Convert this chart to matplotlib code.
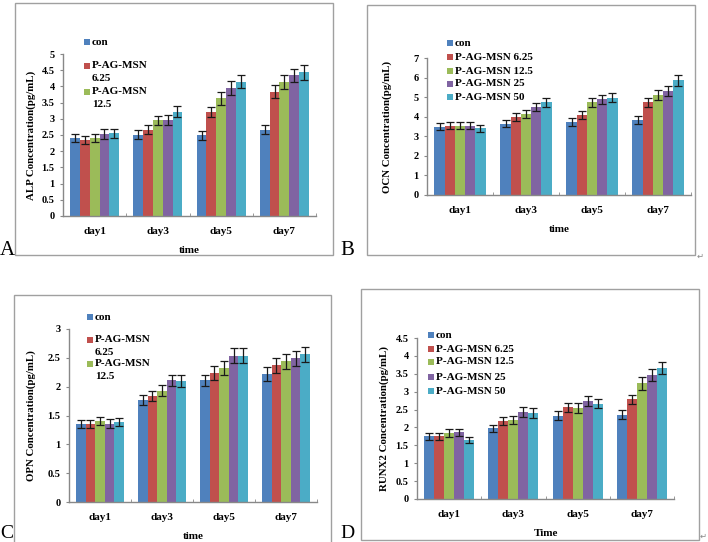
import numpy as np
import matplotlib
matplotlib.use('Agg')
import matplotlib.pyplot as plt
from matplotlib.patches import Rectangle

plt.rcParams['font.family'] = ['Liberation Serif', 'DejaVu Sans']

# data
days = ['day1', 'day3', 'day5', 'day7']
groups = ['con', 'P-AG-MSN 6.25', 'P-AG-MSN 12.5', 'P-AG-MSN 25', 'P-AG-MSN 50']
colors = ['#4F81BD', '#C0504D', '#9BBB59', '#8064A2', '#4BACC6']

alp = [[2.40, 2.51, 2.49, 2.66],
       [2.35, 2.66, 3.21, 3.84],
       [2.40, 2.95, 3.63, 4.13],
       [2.53, 2.97, 3.95, 4.34],
       [2.56, 3.22, 4.15, 4.43]]
alp_err = [[0.13, 0.13, 0.13, 0.14],
           [0.13, 0.14, 0.16, 0.21],
           [0.13, 0.15, 0.20, 0.21],
           [0.14, 0.15, 0.21, 0.21],
           [0.14, 0.17, 0.20, 0.22]]

ocn = [[3.50, 3.64, 3.74, 3.82],
       [3.54, 3.97, 4.09, 4.73],
       [3.54, 4.12, 4.73, 5.10],
       [3.55, 4.48, 4.88, 5.32],
       [3.42, 4.73, 4.98, 5.86]]
ocn_err = [[0.18, 0.18, 0.20, 0.20],
           [0.18, 0.20, 0.22, 0.25],
           [0.18, 0.20, 0.25, 0.25],
           [0.20, 0.20, 0.23, 0.25],
           [0.18, 0.25, 0.23, 0.29]]

opn = [[1.35, 1.77, 2.11, 2.22],
       [1.36, 1.84, 2.23, 2.37],
       [1.40, 1.93, 2.32, 2.44],
       [1.36, 2.11, 2.54, 2.49],
       [1.38, 2.10, 2.54, 2.56]]
opn_err = [[0.07, 0.09, 0.10, 0.12],
           [0.07, 0.09, 0.12, 0.13],
           [0.07, 0.10, 0.12, 0.13],
           [0.08, 0.10, 0.13, 0.13],
           [0.07, 0.11, 0.13, 0.13]]

runx2 = [[1.75, 1.98, 2.33, 2.36],
         [1.75, 2.17, 2.56, 2.79],
         [1.85, 2.22, 2.54, 3.23],
         [1.86, 2.43, 2.75, 3.46],
         [1.64, 2.40, 2.66, 3.66]]
runx2_err = [[0.10, 0.10, 0.12, 0.12],
             [0.10, 0.11, 0.13, 0.13],
             [0.11, 0.11, 0.13, 0.18],
             [0.11, 0.13, 0.14, 0.17],
             [0.08, 0.13, 0.13, 0.18]]

W, H = 708, 542
fig = plt.figure(figsize=(W / 100, H / 100), dpi=100)
fig.patch.set_facecolor('white')


def fx(x):
    return x / W


def fy(y):
    return 1 - y / H


def frame(x0, y0, x1, y1):
    fig.add_artist(Rectangle((fx(x0), fy(y1)), fx(x1) - fx(x0), fy(y0) - fy(y1),
                             transform=fig.transFigure, fill=False,
                             edgecolor='#A0A0A0', linewidth=1.0))


def legend(x, ys, labels):
    # hand-placed legend: small square + bold label (wrapped ones on 2 lines)
    for c, y, lab in zip(colors, ys, labels):
        fig.add_artist(Rectangle((fx(x - 3), fy(y + 3)), 6 / W, 6 / H,
                                 transform=fig.transFigure, facecolor=c,
                                 edgecolor='none'))
        lines = lab.split('\n')
        for k, line in enumerate(lines):
            fig.text(fx(x + 5), fy(y + 12.5 * k), line, fontsize=8, fontweight='bold',
                     va='center', ha='left')


def panel(box, vals, errs, ymax, ystep, ylabel, xlabel, labx):
    l, r, t, b = box
    ax = fig.add_axes([fx(l), fy(b), fx(r) - fx(l), fy(t) - fy(b)])
    idx = np.arange(len(days))
    w = 0.155
    for i in range(len(groups)):
        ax.bar(idx + (i - 2) * w, vals[i], w, color=colors[i], yerr=errs[i],
               error_kw=dict(ecolor='#1a1a1a', elinewidth=0.9, capsize=3, capthick=0.9))
    ax.set_xlim(-0.5, 3.5)
    ax.set_ylim(0, ymax)
    ticks = np.arange(0, ymax + 1e-9, ystep)
    ax.set_yticks(ticks)
    ax.set_yticklabels(['%g' % v for v in ticks], fontsize=7.5, fontweight='bold')
    ax.set_xticks(idx)
    ax.set_xticklabels(days, fontsize=8, fontweight='bold')
    ax.set_xticks(np.arange(-0.5, 3.6, 1), minor=True)
    ax.tick_params(axis='x', which='major', length=0, pad=8)
    ax.tick_params(axis='x', which='minor', length=2.5, direction='in', color='#888888')
    ax.tick_params(axis='y', length=2, direction='out', color='#888888', pad=4)
    for s in ['top', 'right']:
        ax.spines[s].set_visible(False)
    for s in ['left', 'bottom']:
        ax.spines[s].set_color('#888888')
        ax.spines[s].set_linewidth(1.0)
    ax.set_ylabel(ylabel, fontsize=7.8, fontweight='bold')
    ax.yaxis.set_label_coords(labx, 0.5)
    ax.set_xlabel(xlabel, fontsize=8, fontweight='bold')
    ax.xaxis.set_label_coords(0.5, -30 / (b - t))
    return ax


# A
frame(15, 3, 333, 255)
panel((63, 316, 54, 216), alp, alp_err, 5, 0.5, 'ALP Concentration(pg/mL)', 'time', -0.107)
legend(87, [42, 66, 92], ['con', 'P-AG-MSN\n6.25', 'P-AG-MSN\n12.5'])
fig.text(fx(0), fy(255), 'A', fontsize=15, ha='left', va='baseline')

# B
frame(367, 5, 695, 255)
panel((427, 691, 58, 195), ocn, ocn_err, 7, 1, 'OCN Concentration(pg/mL)', 'time', -0.133)
legend(450, [43, 57, 71, 84, 97], groups)
fig.text(fx(340), fy(255), 'B', fontsize=15, ha='left', va='baseline')
fig.text(fx(697), fy(257), '\u21b5', fontsize=6, color='#888888', ha='left', va='center')

# C
frame(14, 295, 331, 548)
panel((69, 317, 329, 502), opn, opn_err, 3, 0.5, 'OPN Concentration(pg/mL)', 'time', -0.133)
legend(90, [317, 340, 364], ['con', 'P-AG-MSN\n6.25', 'P-AG-MSN\n12.5'])
fig.text(fx(0), fy(538), 'C', fontsize=14, ha='left', va='baseline')

# D
frame(361, 289, 699, 540)
panel((417, 674, 338, 499), runx2, runx2_err, 4.5, 0.5, 'RUNX2 Concentration(pg/mL)', 'Time', -0.109)
legend(431, [335, 349, 362, 377, 391], groups)
fig.text(fx(340), fy(538), 'D', fontsize=14, ha='left', va='baseline')
fig.text(fx(700), fy(537), '\u21b5', fontsize=6, color='#888888', ha='left', va='center')

fig.savefig('out.png', dpi=100)
